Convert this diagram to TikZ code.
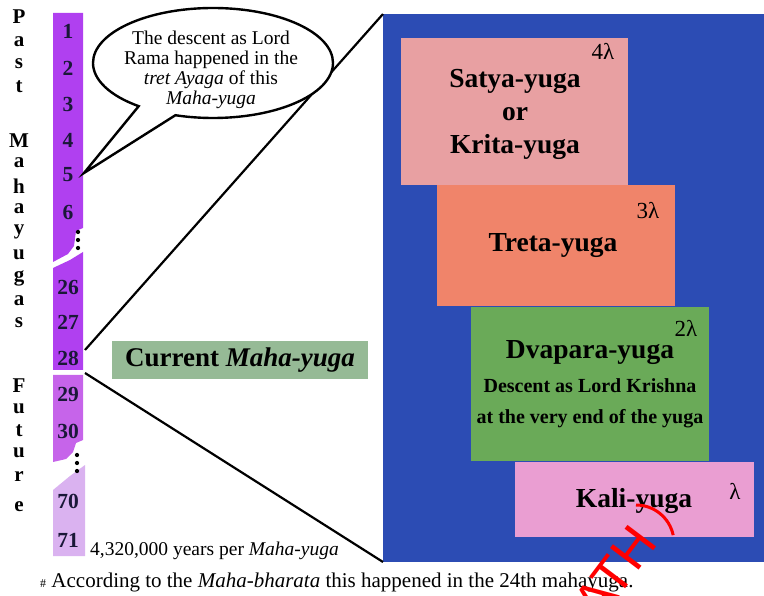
\documentclass[tikz,border=0pt]{standalone}
\usepackage{fontspec}
\setmainfont{Liberation Serif}
\newfontfamily\redsans{Liberation Sans}
\usetikzlibrary{shapes.callouts}
\definecolor{purpA}{RGB}{176,64,240}
\definecolor{purpB}{RGB}{198,100,234}
\definecolor{lavC}{RGB}{218,178,240}
\definecolor{panelblue}{RGB}{44,76,180}
\definecolor{satyac}{RGB}{232,160,162}
\definecolor{tretac}{RGB}{240,132,106}
\definecolor{dvaparac}{RGB}{106,170,88}
\definecolor{kalic}{RGB}{234,158,210}
\definecolor{currc}{RGB}{150,186,150}
\definecolor{numc}{RGB}{26,24,56}
\tikzset{
  yugabox/.style={anchor=north west, inner sep=0pt, outer sep=0pt},
  bigbold/.style={font=\fontsize{27.5}{30}\selectfont\bfseries, inner sep=0pt, align=center},
  lam/.style={font=\fontsize{23}{26}\selectfont, inner sep=0pt},
  colnum/.style={font=\fontsize{21.5}{22}\selectfont\bfseries, text=numc, inner sep=0pt},
  sideletter/.style={font=\fontsize{21}{22}\selectfont\bfseries, inner sep=0pt},
  vdots/.style={fill=black, circle, inner sep=1.5pt},
}
\begin{document}
\begin{tikzpicture}[x=1pt,y=-1pt]
\useasboundingbox (0,0) rectangle (764,596);
\clip (0,0) rectangle (764,596);
% ---------- left column of Maha-yugas ----------
\fill[purpA] (53,13) -- (83,13) -- (83,228) -- (76,231) -- (74,246) -- (68,254) -- (53,262) -- cycle;
\fill[purpA] (53,268) -- (70,260) -- (83,252) -- (83,370) -- (53,370) -- cycle;
\fill[purpB] (53,375) -- (83,375) -- (83,440) -- (76,443) -- (73,452) -- (66,459) -- (53,462) -- cycle;
\fill[lavC] (53,490) -- (70,476) -- (85,465) -- (85,556) -- (53,556) -- cycle;
\foreach \n/\y in {1/31,2/68,3/104,4/140,5/175,6/212,26/287,27/322,28/358,29/394,30/431,70/501,71/540}
  \node[colnum] (num\n) at (68,\y) {\n};
\foreach \i/\y in {1/232,2/240,3/248}
  \node[vdots] (dA\i) at (78,\y) {};
\foreach \i/\y in {1/455,2/463,3/471}
  \node[vdots] (dB\i) at (77,\y) {};
% side letters
\foreach \c/\y [count=\k] in {P/17,a/42,s/64,t/87,M/141,a/163,h/186,a/209,y/232,u/255,g/278,a/301,s/323,F/386,u/409,t/431,u/453,r/477,e/507}
  \node[sideletter] (sl\k) at (19,\y) {\c};
% ---------- blue panel ----------
\node[yugabox, fill=panelblue, minimum width=381, minimum height=548] (panel) at (383,14) {};
\node[yugabox, fill=satyac, minimum width=227, minimum height=147] (satya) at (401,38) {};
\node[yugabox, fill=tretac, minimum width=238, minimum height=121] (treta) at (437,185) {};
\node[yugabox, fill=dvaparac, minimum width=238, minimum height=154] (dvapara) at (471,307) {};
\node[yugabox, fill=kalic, minimum width=239, minimum height=75] (kali) at (515,462) {};
\node[bigbold, font=\fontsize{27.5}{33}\selectfont\bfseries] (satyat) at (515,114) {Satya-yuga\\or\\Krita-yuga};
\node[lam] (l4) at (603,51) {4λ};
\node[bigbold] (tretat) at (553,246) {Treta-yuga};
\node[lam] (l3) at (648,211) {3λ};
\node[bigbold] (dvat) at (590,353) {Dvapara-yuga};
\node[font=\fontsize{20}{31}\selectfont\bfseries, align=center, inner sep=0pt] (dvasub) at (590,403) {Descent as Lord Krishna\\at the very end of the yuga};
\node[lam] (l2) at (686,328) {2λ};
\node[bigbold] (kalit) at (634,501) {Kali-yuga};
\node[lam] (l1) at (735,491) {λ};
% ---------- current maha-yuga ----------
\node[yugabox, fill=currc, minimum width=256, minimum height=38] (curr) at (112,341) {};
\node[font=\fontsize{27}{30}\selectfont\bfseries, inner sep=0pt] (currt) at (curr.center) {Current \textit{Maha-yuga}};
\coordinate (c28a) at (85,350);
\coordinate (c28b) at (85,373);
\draw[line width=2.2pt] (c28a) -- (panel.north west);
\draw[line width=2.2pt] (c28b) -- (panel.south west);
% ---------- speech bubble ----------
\coordinate (tip) at (84,173);
\node[ellipse callout, draw=black, line width=2.4pt, fill=white, minimum width=240, minimum height=110,
  callout absolute pointer=(tip), callout pointer arc=20, inner sep=0pt] (bubble) at (213,63) {};
\node[font=\fontsize{19.5}{20}\selectfont, align=center, inner sep=0pt] (bubbletext) at (211,70)
  {The descent as Lord\\Rama happened in the\\\textit{tret Ayaga} of this\\\textit{Maha-yuga}};
% ---------- bottom texts ----------
\node[anchor=base west, font=\fontsize{19.5}{22}\selectfont, inner sep=0pt] (peryuga) at (90,555) {4,320,000 years per \textit{Maha-yuga}};
\node[anchor=base west, font=\fontsize{21}{22}\selectfont, inner sep=0pt] (foot) at (40,587) {{\fontsize{12}{12}\selectfont\#} According to the \textit{Maha-bharata} this happened in the 24th mahayuga.};
% ---------- red overlay ----------
\node[text=red, font=\fontsize{52}{52}\selectfont\redsans, rotate=53, inner sep=0pt] (redmark) at (615,573) {ATH};
\draw[red, line width=3pt] (636,505) arc[start angle=-90, end angle=-12, radius=38];
\end{tikzpicture}
\end{document}
